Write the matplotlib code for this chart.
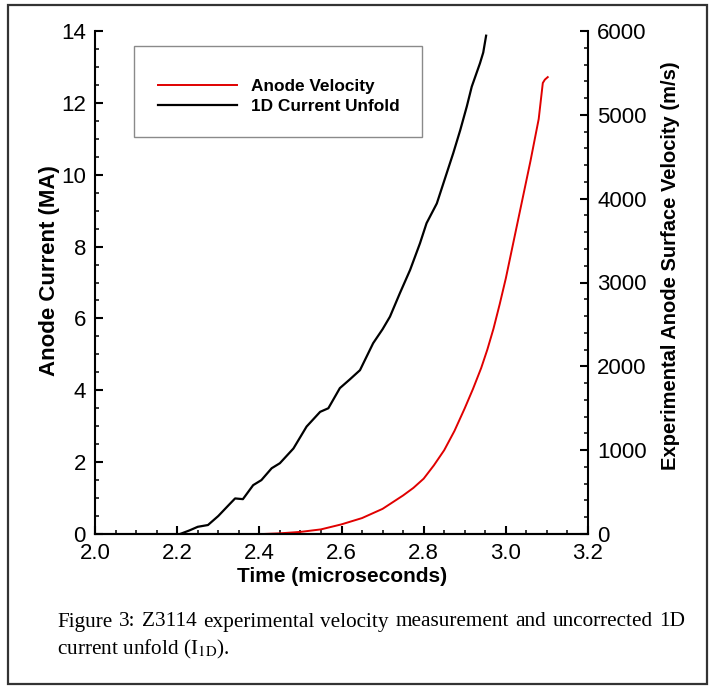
import matplotlib
matplotlib.use("Agg")
import matplotlib.pyplot as plt
from matplotlib.ticker import MultipleLocator, FormatStrFormatter
from matplotlib.patches import Rectangle
import numpy as np

# ── data ────────────────────────────────────────────────────────────────
t_current = [2.207, 2.23, 2.25, 2.275, 2.30, 2.325, 2.341, 2.36, 2.385, 2.405,
             2.43, 2.45, 2.483, 2.515, 2.548, 2.568, 2.596, 2.62, 2.645, 2.677,
             2.70, 2.718, 2.742, 2.767, 2.791, 2.807, 2.832, 2.848, 2.872, 2.889,
             2.905, 2.917, 2.937, 2.945, 2.952]
current_ma = [0.0, 0.1, 0.2, 0.25, 0.5, 0.8, 0.99, 0.97, 1.36, 1.5,
              1.83, 1.97, 2.38, 2.99, 3.4, 3.5, 4.06, 4.3, 4.56, 5.31,
              5.7, 6.05, 6.70, 7.35, 8.09, 8.65, 9.2, 9.76, 10.6, 11.24,
              11.9, 12.45, 13.1, 13.4, 13.87]

t_velocity = [2.41, 2.45, 2.50, 2.55, 2.60, 2.65, 2.70, 2.75, 2.775, 2.80,
              2.825, 2.85, 2.875, 2.90, 2.92, 2.94, 2.955, 2.97, 2.985, 3.00,
              3.015, 3.03, 3.045, 3.06, 3.07, 3.08, 3.09, 3.095, 3.102]
velocity_ms = [0, 8, 25, 55, 115, 190, 300, 460, 550, 660,
               820, 1000, 1230, 1500, 1730, 1980, 2200, 2450, 2740, 3050,
               3400, 3750, 4100, 4450, 4700, 4950, 5380, 5420, 5450]

labels = ["Anode Velocity", "1D Current Unfold"]
x_ticks = [2.0, 2.2, 2.4, 2.6, 2.8, 3.0, 3.2]

caption_1 = ("Figure 3: Z3114 experimental velocity measurement "
             "and uncorrected 1D")
caption_2 = r"current unfold (I$_{\mathrm{1D}}$)."

plt.rcParams["font.family"] = ["Liberation Sans", "DejaVu Sans"]
plt.rcParams["mathtext.fontset"] = "stix"

W, H = 714, 688
fig = plt.figure(figsize=(W / 100, H / 100), dpi=100)

def fx(px):
    return px / W

def fy(py):
    return (H - py) / H

ax1 = fig.add_axes([fx(95), fy(534), fx(588) - fx(95), fy(31) - fy(534)])
ax2 = ax1.twinx()

line_i, = ax1.plot(t_current, current_ma, color="black", lw=1.6)
line_v, = ax2.plot(t_velocity, velocity_ms, color="#e00000", lw=1.4)

ax1.set_xlim(2.0, 3.2)
ax1.set_ylim(0, 14)
ax2.set_ylim(0, 6000)

ax1.set_xticks(x_ticks)
ax1.xaxis.set_major_formatter(FormatStrFormatter("%.1f"))
ax1.xaxis.set_minor_locator(MultipleLocator(0.05))
ax1.yaxis.set_major_locator(MultipleLocator(2))
ax1.yaxis.set_minor_locator(MultipleLocator(0.5))
ax2.yaxis.set_major_locator(MultipleLocator(1000))
ax2.yaxis.set_minor_locator(MultipleLocator(200))

for ax in (ax1, ax2):
    ax.spines["top"].set_visible(False)
    for s in ax.spines.values():
        s.set_linewidth(1.5)
    ax.tick_params(which="major", direction="in", length=6, width=1.5,
                   labelsize=16, pad=6.5)
    ax.tick_params(which="minor", direction="in", length=3, width=1.1)
ax1.spines["right"].set_visible(False)
ax2.spines["left"].set_visible(False)
ax1.tick_params(which="both", top=False, right=False)
ax2.tick_params(which="both", left=False, top=False)

# axis titles
fig.text(fx(342), fy(577), "Time (microseconds)", ha="center", va="center",
         fontsize=15, fontweight="bold")
fig.text(fx(50), fy(271), "Anode Current (MA)", rotation=90,
         ha="center", va="center", fontsize=16, fontweight="bold")
fig.text(fx(671), fy(266), "Experimental Anode Surface Velocity (m/s)",
         rotation=90, ha="center", va="center", fontsize=14.5, fontweight="bold")

# legend
ax2.add_patch(Rectangle((0.079, 0.79), 0.584, 0.181, transform=ax2.transAxes,
                        fill=False, edgecolor="#8a8a8a", lw=1.0, clip_on=False))
ax2.legend([line_v, line_i], labels, loc="upper left",
           bbox_to_anchor=(0.128, 0.905), frameon=False, borderpad=0,
           borderaxespad=0, handlelength=4.6, handletextpad=0.8,
           labelspacing=0.28, prop={"size": 12.4, "weight": "bold"})

# outer border
fig.patches.append(Rectangle((fx(8), fy(684)), fx(707) - fx(8), fy(5) - fy(684),
                             transform=fig.transFigure, fill=False,
                             edgecolor="#333333", lw=1.6))

# caption, justified first line
serif = dict(fontsize=15.3, family=["Liberation Serif", "DejaVu Serif"],
             va="center")
renderer = fig.canvas.get_renderer()
words = caption_1.split()
texts = [fig.text(0, fy(622), w, **serif) for w in words]
widths = [t.get_window_extent(renderer).width for t in texts]
x0, x1 = 57, 685
gap = (x1 - x0 - sum(widths)) / (len(words) - 1)
x = x0
for t, w in zip(texts, widths):
    t.set_x(fx(x))
    x += w + gap
fig.text(fx(57), fy(649), caption_2, **serif)

fig.savefig("out.png", dpi=100)
